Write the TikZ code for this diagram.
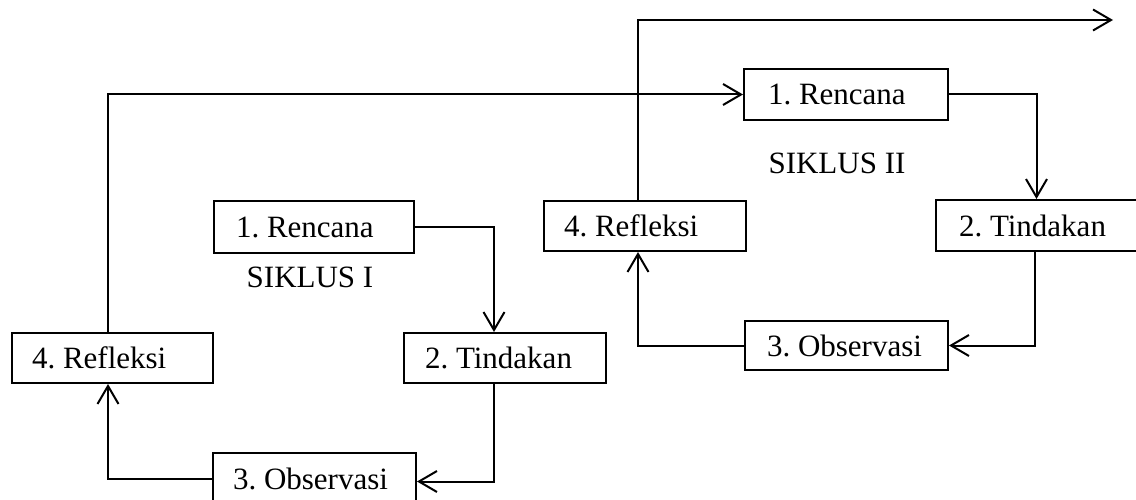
\documentclass[tikz,border=0pt]{standalone}
\usepackage{fontspec}
\setmainfont{Liberation Serif}
\usetikzlibrary{arrows.meta}
\frenchspacing
\begin{document}
\begin{tikzpicture}[x=1pt,y=-1pt,
  box/.style={draw,line width=2pt,anchor=north west,inner ysep=0pt,
    font=\fontsize{31}{36}\selectfont},
  lbl/.style={font=\fontsize{31}{36}\selectfont},
  arr/.style={line width=2pt,-{Straight Barb[length=18pt,width=21pt,line width=2pt]}}]
\clip (0,0) rectangle (1136,500);
\useasboundingbox (0,0) rectangle (1136,500);
% boxes: (left,top), width, height, left pad
\node[box,minimum width=200pt,minimum height=52pt,inner xsep=22pt] (r1) at (213,200) {\makebox[156pt][l]{1. Rencana}};
\node[box,minimum width=202pt,minimum height=50pt,inner xsep=21pt] (t1) at (403,332) {\makebox[160pt][l]{2. Tindakan}};
\node[box,minimum width=203pt,minimum height=52pt,inner xsep=20pt] (o1) at (212,452) {\makebox[163pt][l]{3. Observasi}};
\node[box,minimum width=201pt,minimum height=50pt,inner xsep=20pt] (f1) at (11,332) {\makebox[161pt][l]{4. Refleksi}};
\node[box,minimum width=204pt,minimum height=51pt,inner xsep=24pt] (r2) at (743,68) {\makebox[156pt][l]{1. Rencana}};
\node[box,minimum width=204pt,minimum height=51pt,inner xsep=23pt] (t2) at (935,199) {\makebox[158pt][l]{2. Tindakan}};
\node[box,minimum width=203pt,minimum height=49pt,inner xsep=22pt] (o2) at (744,320) {\makebox[159pt][l]{3. Observasi}};
\node[box,minimum width=202pt,minimum height=50pt,inner xsep=20pt] (f2) at (543,200) {\makebox[162pt][l]{4. Refleksi}};
\node[lbl] (s1) at (310,277) {SIKLUS I};
\node[lbl] (s2) at (837,163) {SIKLUS II};
\coordinate (endc) at (1113,20);
% cycle I
\draw[arr] (r1.east) -| ([xshift=-11pt]t1.north);
\draw[arr] ([xshift=-11pt]t1.south) |- ([yshift=-2.5pt]o1.east);
\draw[arr] (o1.west) -| ([xshift=-4.5pt]f1.south);
\draw[arr] ([xshift=-4.5pt]f1.north) |- (r2.west);
% cycle II
\draw[arr] (r2.east) -| ([xshift=-1.5pt]t2.north);
\draw[arr] ([xshift=-3.5pt]t2.south) |- (o2.east);
\draw[arr] (o2.west) -| ([xshift=-7pt]f2.south);
\draw[arr] ([xshift=-7pt]f2.north) |- (endc);
\end{tikzpicture}
\end{document}
